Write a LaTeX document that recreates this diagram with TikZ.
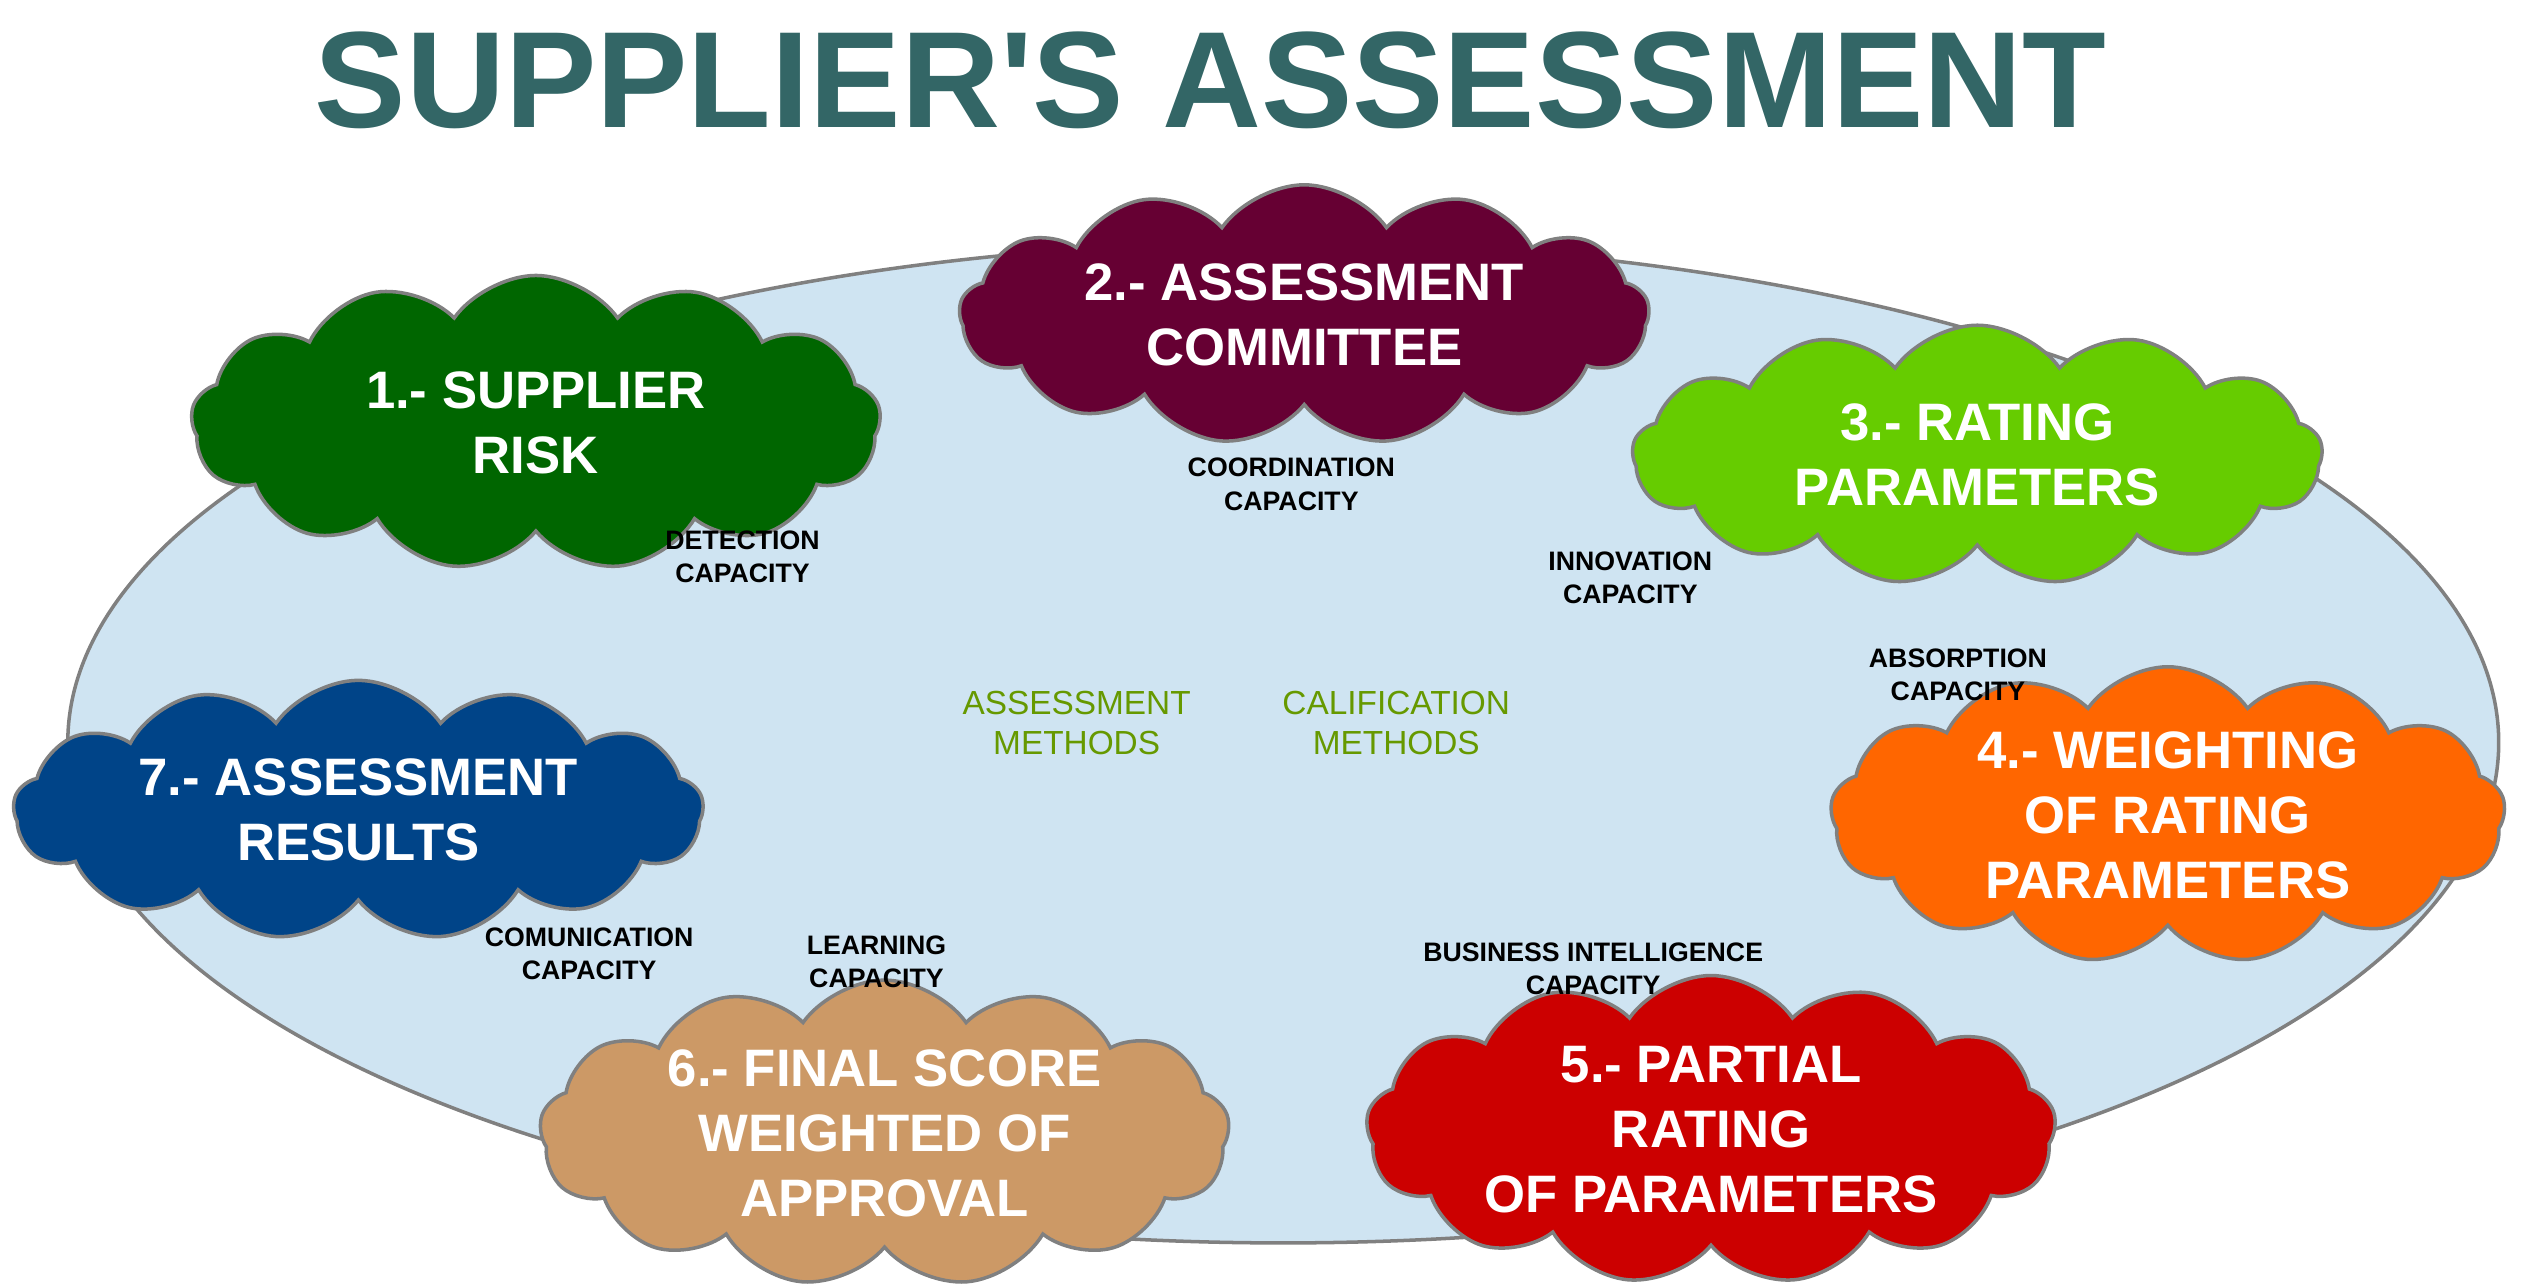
\documentclass[tikz,border=0pt]{standalone}
\usepackage{fontspec}
\setmainfont{Liberation Sans}
\usetikzlibrary{shapes.symbols}
\definecolor{titlecol}{RGB}{51,102,102}
\definecolor{plate}{RGB}{207,228,242}
\definecolor{midtext}{RGB}{102,153,0}
\definecolor{riskcol}{RGB}{0,102,0}
\definecolor{committeecol}{RGB}{102,0,51}
\definecolor{ratingcol}{RGB}{102,204,0}
\definecolor{weightcol}{RGB}{255,102,0}
\definecolor{partialcol}{RGB}{204,0,0}
\definecolor{finalcol}{RGB}{204,153,102}
\definecolor{resultcol}{RGB}{0,68,136}
\tikzset{
  step/.style={cloud, cloud puffs=13, cloud puff arc=110, cloud ignores aspect,
    draw=gray, line width=1pt,
    fill=#1, text=white, align=center, inner sep=0pt,
    font=\fontsize{15}{18.5}\selectfont\bfseries,
    minimum width=6.9cm, minimum height=2.6cm},
  skill/.style={align=center, font=\fontsize{7.6}{9.5}\selectfont\bfseries},
  method/.style={align=center, text=midtext, font=\fontsize{9.5}{11.5}\selectfont}
}
\begin{document}
\begin{tikzpicture}[x=0.01614cm, y=-0.01614cm]
  \useasboundingbox (0,0) rectangle (1568,795.5);
  % background plate
  \draw [fill=plate, draw=gray, line width=1pt] (795,460) ellipse [x radius=753, y radius=310];
  \node (title) [text=titlecol, font=\fontsize{39}{43}\selectfont\bfseries] at (750,50) {SUPPLIER\textquotesingle S ASSESSMENT};
  % steps
  \node (s1) [step=riskcol, minimum height=2.95cm] at (332,262) {1.- SUPPLIER\\RISK};
  \node (s2) [step=committeecol] at (808,195) {2.- ASSESSMENT\\COMMITTEE};
  \node (s3) [step=ratingcol] at (1225,282) {3.- RATING\\PARAMETERS};
  \node (s4) [step=weightcol, minimum width=6.75cm] at (1343,505) {4.- WEIGHTING\\OF RATING\\PARAMETERS};
  \node (s5) [step=partialcol] at (1060,700) {5.- PARTIAL\\RATING\\OF PARAMETERS};
  \node (s6) [step=finalcol] at (548,702) {6.- FINAL SCORE\\WEIGHTED OF\\APPROVAL};
  \node (s7) [step=resultcol] at (222,502) {7.- ASSESSMENT\\RESULTS};
  % capacities
  \node (c1) [skill] at (460,345) {DETECTION\\CAPACITY};
  \node (c2) [skill] at (800,300) {COORDINATION\\CAPACITY};
  \node (c3) [skill] at (1010,358) {INNOVATION\\CAPACITY};
  \node (c4) [skill] at (1213,418) {ABSORPTION\\CAPACITY};
  \node (c5) [skill] at (987,600) {BUSINESS INTELLIGENCE\\CAPACITY};
  \node (c6) [skill] at (543,596) {LEARNING\\CAPACITY};
  \node (c7) [skill] at (365,591) {COMUNICATION\\CAPACITY};
  % methods
  \node (m1) [method] at (667,448) {ASSESSMENT\\METHODS};
  \node (m2) [method] at (865,448) {CALIFICATION\\METHODS};
\end{tikzpicture}
\end{document}
